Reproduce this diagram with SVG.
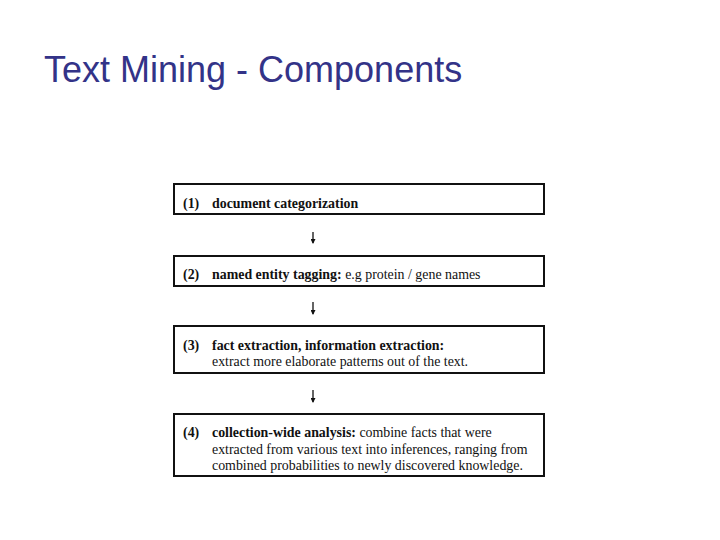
<svg xmlns="http://www.w3.org/2000/svg" width="720" height="540" viewBox="0 0 720 540">
<style>
.box{fill:#fff;stroke:#111;stroke-width:2}
.t{font-family:"Liberation Serif",serif;font-size:13.9px;fill:#111}
.b{font-weight:bold}
.title{font-family:"Liberation Sans",Arial,sans-serif;font-size:36px;fill:#333388}
.arr{stroke:#111;stroke-width:1.3;fill:none}
</style>
<defs>
<marker id="ah" markerWidth="5" markerHeight="5" refX="4" refY="2.5" orient="auto" markerUnits="userSpaceOnUse" viewBox="0 0 5 5">
<path d="M0,0 L5,2.5 L0,5 Z" fill="#111"/>
</marker>
</defs>
<rect width="720" height="540" fill="#fff"/>
<text class="title" x="44" y="82">Text Mining - Components</text>
<g id="connectors">
<line class="arr" x1="313" y1="232" x2="313" y2="243" marker-end="url(#ah)"/>
<line class="arr" x1="313" y1="302" x2="313" y2="314" marker-end="url(#ah)"/>
<line class="arr" x1="313" y1="390" x2="313" y2="402" marker-end="url(#ah)"/>
</g>
<g id="n1">
<rect class="box" x="174" y="184" width="370" height="30"/>
<text class="t b" x="183" y="208">(1)</text>
<text class="t b" x="212" y="208">document categorization</text>
</g>
<g id="n2">
<rect class="box" x="174" y="256" width="370" height="30"/>
<text class="t b" x="183" y="279">(2)</text>
<text class="t" x="212" y="279"><tspan class="b">named entity tagging:</tspan> e.g protein / gene names</text>
</g>
<g id="n3">
<rect class="box" x="174" y="326" width="370" height="47"/>
<text class="t b" x="183" y="350">(3)</text>
<text class="t b" x="212" y="350">fact extraction, information extraction:</text>
<text class="t" x="212" y="366">extract more elaborate patterns out of the text.</text>
</g>
<g id="n4">
<rect class="box" x="174" y="414" width="370" height="62"/>
<text class="t b" x="183" y="437">(4)</text>
<text class="t" x="212" y="437"><tspan class="b">collection-wide analysis:</tspan>  combine facts that were</text>
<text class="t" x="212" y="454">extracted from various text into inferences, ranging from</text>
<text class="t" x="212" y="470">combined probabilities to newly discovered knowledge.</text>
</g>
</svg>
